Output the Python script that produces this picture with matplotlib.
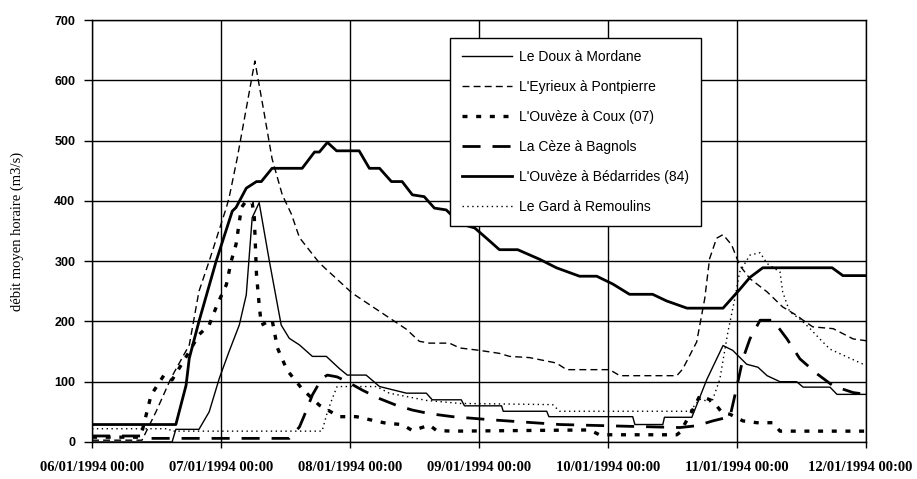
import matplotlib
matplotlib.use('Agg')
import matplotlib.pyplot as plt
import matplotlib.dates as mdates
import matplotlib.transforms as mtransforms
import numpy as np
import pandas as pd

# hours after 06/01/1994 00:00, and hourly mean discharge (m3/s)
doux_h = [0, 14.9, 15.6, 19.9, 21.8, 23.7, 25.5, 27.4, 28.7, 29.8, 31.1, 33.0, 35.2, 36.7, 38.6,
          41.0, 43.6, 46.0, 47.5, 51.0, 53.5, 58.5, 62.2, 63.3, 68.7, 69.3, 76.2, 76.5, 84.6, 85.0,
          100.6, 101.0, 106.2, 106.5, 111.6, 114.4, 117.4, 119.2, 121.8, 123.9, 125.6, 128.0,
          131.1, 132.3, 137.3, 138.6, 144]
doux_q = [0, 0, 21, 21, 50, 106, 150, 194, 244, 372, 397, 300, 194, 172, 161,
          142, 142, 122, 111, 111, 92, 81, 81, 70, 70, 60, 60, 51, 51, 42,
          42, 29, 29, 41, 41, 104, 160, 152, 129, 124, 110, 100,
          100, 91, 91, 79, 79]

eyrieux_h = [0, 9.3, 11.9, 14.7, 18.1, 19.9, 21.8, 25.0, 25.5, 27.0, 28.9, 30.3, 32.0, 33.5, 35.4,
             37.1, 38.6, 42.3, 47.3, 48.4, 55.3, 58.5, 60.9, 62.8, 66.5, 68.4, 72.1, 75.8, 77.7,
             81.4, 86.4, 88.3, 96.3, 98.2, 108.8, 109.9, 112.5, 114.0, 114.9, 116.2, 117.4, 119.0,
             120.5, 122.4, 125.6, 128.5, 131.1, 132.3, 134.1, 137.9, 141.6, 144]
eyrieux_q = [3, 3, 50, 106, 161, 250, 300, 389, 405, 470, 563, 632, 547, 470, 410,
             378, 339, 297, 256, 247, 206, 187, 167, 164, 164, 156, 152, 147, 142,
             140, 131, 120, 120, 110, 110, 121, 166, 238, 304, 338, 344, 327,
             293, 271, 249, 224, 210, 202, 191, 188, 171, 168]

coux_h = [0, 8.8, 9.3, 11.0, 13.4, 14.9, 18.1, 19.9, 21.8, 23.3, 25.0, 25.9, 26.8, 27.8, 28.7,
          29.8, 30.2, 30.6, 31.1, 31.5, 33.5, 34.5, 36.3, 39.1, 42.3, 46.0, 49.2, 52.2, 54.8,
          57.7, 59.6, 62.8, 64.1, 67.1, 92.6, 94.4, 108.8, 109.4, 111.8, 113.1, 115.5, 117.2,
          118.7, 121.1, 123.7, 126.7, 128.0, 144]
coux_q = [8, 8, 17, 78, 111, 103, 150, 178, 194, 228, 261, 300, 328, 389, 400,
          397, 372, 278, 228, 194, 203, 156, 119, 88, 61, 42, 42, 36, 31,
          29, 19, 28, 19, 18, 20, 12, 12, 16, 54, 77, 68, 49,
          46, 35, 32, 32, 18, 18]

ceze_h = [0, 9.3, 10.6, 36.7, 38.6, 39.5, 41.0, 42.8, 43.8, 45.6, 47.5, 50.3, 53.5, 56.6, 59.6,
          62.8, 67.1, 74.0, 87.0, 100.0, 109.4, 112.5, 115.5, 118.7, 119.6, 121.1, 122.4, 124.3,
          126.7, 129.3, 131.7, 134.9, 137.9, 141.6, 144]
ceze_q = [10, 10, 6, 6, 25, 44, 78, 106, 111, 108, 100, 86, 72, 61, 53,
          47, 42, 37, 29, 26, 24, 27, 35, 42, 77, 138, 171, 202,
          202, 171, 138, 113, 93, 82, 79]

bedar_h = [0, 15.6, 17.5, 18.1, 19.9, 23.1, 26.1, 26.8, 28.7, 30.6, 31.5, 33.5, 39.1, 41.4, 42.3,
           43.8, 45.5, 49.7, 51.6, 53.5, 55.7, 57.7, 59.6, 61.8, 63.7, 65.9, 67.4, 69.3, 71.2,
           73.4, 75.8, 79.2, 83.3, 86.4, 90.7, 93.9, 96.9, 100.0, 104.3, 106.9, 110.7, 117.4,
           120.5, 122.4, 124.8, 137.7, 139.7, 144]
bedar_q = [29, 29, 94, 139, 200, 300, 383, 389, 421, 432, 432, 454, 454, 481, 481,
           497, 483, 483, 454, 454, 432, 432, 410, 407, 388, 385, 372, 360, 355,
           338, 319, 319, 303, 289, 275, 275, 262, 245, 245, 234, 222, 222,
           253, 273, 289, 289, 276, 276]

gard_h = [0, 14.3, 14.7, 42.8, 43.8, 44.7, 45.6, 52.9, 55.3, 62.2, 68.4, 85.7, 87.0, 111.2,
          113.1, 115.3, 116.8, 118.3, 119.6, 120.5, 122.4, 124.3, 125.6, 128.0, 128.5, 129.8,
          131.7, 133.6, 135.4, 137.3, 140.5, 144]
gard_q = [22, 22, 18, 18, 50, 72, 92, 92, 81, 69, 64, 62, 51, 51,
          71, 66, 104, 182, 238, 282, 310, 314, 296, 282, 249, 216,
          204, 188, 171, 154, 141, 127]

labels = ["Le Doux à Mordane", "L'Eyrieux à Pontpierre", "L'Ouvèze à Coux (07)",
          "La Cèze à Bagnols", "L'Ouvèze à Bédarrides (84)", "Le Gard à Remoulins"]

start = pd.Timestamp("1994-01-06 00:00")


def to_time(hours):
    return start + pd.to_timedelta(np.array(hours), unit="h")


fig = plt.figure(figsize=(9.17, 4.79), dpi=100)
ax = fig.add_axes([92 / 917, 37 / 479, 774 / 917, 422 / 479])

ax.plot(to_time(doux_h), doux_q, color="black", lw=1.0, label=labels[0])
ax.plot(to_time(eyrieux_h), eyrieux_q, color="black", lw=1.0, linestyle=(0, (5, 3)), label=labels[1])
ax.plot(to_time(coux_h), coux_q, color="black", lw=2.4, linestyle=(0, (1.5, 2.6)), label=labels[2])
ax.plot(to_time(ceze_h), ceze_q, color="black", lw=2.0, linestyle=(0, (6.5, 4.3)), label=labels[3])
ax.plot(to_time(bedar_h), bedar_q, color="black", lw=2.0, label=labels[4])
ax.plot(to_time(gard_h), gard_q, color="black", lw=1.0, linestyle=(0, (1, 2.5)), label=labels[5])

ax.set_xlim(start, start + pd.Timedelta(hours=144))
ax.set_ylim(0, 700)
ax.set_yticks(np.arange(0, 701, 100))
ax.xaxis.set_major_locator(mdates.DayLocator())
ax.xaxis.set_major_formatter(mdates.DateFormatter("%d/%m/%Y %H:%M"))
ax.grid(True, color="black", lw=1.0)
ax.set_axisbelow(True)
for s in ax.spines.values():
    s.set_color("black")
    s.set_linewidth(1.0)

ax.tick_params(axis="y", direction="out", length=6, width=1, pad=6)
ax.tick_params(axis="x", direction="out", length=4, width=1, pad=10)
for t in ax.get_yticklabels():
    t.set_fontfamily("Liberation Sans")
    t.set_fontweight("bold")
    t.set_fontsize(9)
xlabels = ax.get_xticklabels()
for t in xlabels:
    t.set_fontfamily("Liberation Serif")
    t.set_fontweight("bold")
    t.set_fontsize(10.5)
# last date label sits against the right edge, nudge it in
xlabels[-1].set_transform(xlabels[-1].get_transform() +
                          mtransforms.ScaledTranslation(-6 / 100, 0, fig.dpi_scale_trans))

ax.set_ylabel("débit moyen horaire (m3/s)", fontfamily="Liberation Serif", fontsize=10.5)
ax.yaxis.set_label_coords(-0.088, 0.5)

leg = ax.legend(loc="upper left", bbox_to_anchor=(0.4625, 0.957), borderaxespad=0,
                frameon=True, fancybox=False, edgecolor="black", framealpha=1,
                handlelength=3.6, handletextpad=0.5, labelspacing=1.15, borderpad=0.85,
                prop={"family": "Liberation Sans", "size": 10})
leg.get_frame().set_linewidth(1.0)

fig.savefig("out.png", dpi=100)
